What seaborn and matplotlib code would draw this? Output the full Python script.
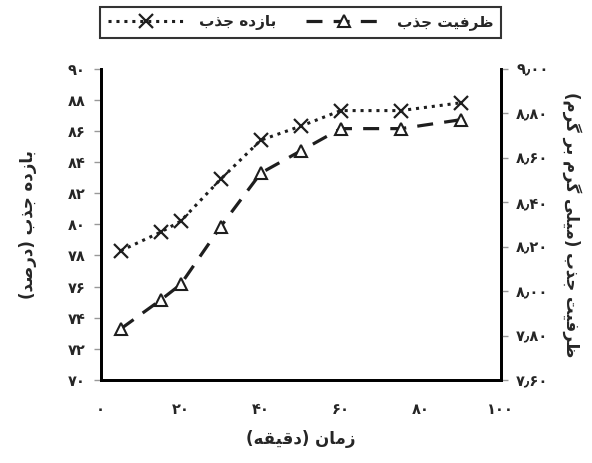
import matplotlib
matplotlib.use("Agg")
import matplotlib.pyplot as plt
import seaborn as sns
import pandas as pd
from matplotlib.lines import Line2D

time_min = [5, 15, 20, 30, 40, 50, 60, 75, 90]
efficiency = [78.3, 79.5, 80.2, 82.9, 85.4, 86.3, 87.3, 87.3, 87.8]
capacity = [7.83, 7.96, 8.03, 8.29, 8.53, 8.63, 8.73, 8.73, 8.77]

label_eff = "بازده جذب"
label_cap = "ظرفیت جذب"
ylabel_left = "بازده جذب (درصد)"
ylabel_right = "ظرفیت جذب (میلی گرم بر گرم)"
xlabel = "زمان (دقیقه)"

x_ticks = [0, 20, 40, 60, 80, 100]
left_ticks = [70, 72, 74, 76, 78, 80, 82, 84, 86, 88, 90]
right_ticks = [7.6, 7.8, 8.0, 8.2, 8.4, 8.6, 8.8, 9.0]

# --- minimal Arabic/Persian shaping (presentation forms, visual order) ---
FORMS = {
    'ا': (0xFE8D, 0xFE8E, None, None),
    'د': (0xFEA9, 0xFEAA, None, None),
    'ذ': (0xFEAB, 0xFEAC, None, None),
    'ر': (0xFEAD, 0xFEAE, None, None),
    'ز': (0xFEAF, 0xFEB0, None, None),
    'ب': (0xFE8F, 0xFE90, 0xFE91, 0xFE92),
    'ت': (0xFE95, 0xFE96, 0xFE97, 0xFE98),
    'ج': (0xFE9D, 0xFE9E, 0xFE9F, 0xFEA0),
    'ص': (0xFEB9, 0xFEBA, 0xFEBB, 0xFEBC),
    'ظ': (0xFEC5, 0xFEC6, 0xFEC7, 0xFEC8),
    'ف': (0xFED1, 0xFED2, 0xFED3, 0xFED4),
    'ق': (0xFED5, 0xFED6, 0xFED7, 0xFED8),
    'ل': (0xFEDD, 0xFEDE, 0xFEDF, 0xFEE0),
    'م': (0xFEE1, 0xFEE2, 0xFEE3, 0xFEE4),
    'ن': (0xFEE5, 0xFEE6, 0xFEE7, 0xFEE8),
    'ه': (0xFEE9, 0xFEEA, 0xFEEB, 0xFEEC),
    'ی': (0xFBFC, 0xFBFD, 0xFBFE, 0xFBFF),
    'گ': (0xFB92, 0xFB93, 0xFB94, 0xFB95),
}


def dual(c):
    return c in FORMS and FORMS[c][2] is not None


def shape(s):
    out = []
    for i, c in enumerate(s):
        if c not in FORMS:
            out.append(c)
            continue
        prev = s[i - 1] if i > 0 else ''
        nxt = s[i + 1] if i + 1 < len(s) else ''
        jp = dual(prev)
        jn = dual(c) and nxt in FORMS
        iso, fin, ini, med = FORMS[c]
        if jp and jn:
            code = med
        elif jp:
            code = fin
        elif jn:
            code = ini
        else:
            code = iso
        out.append(chr(code))
    vis = ''.join(reversed(out))
    return vis.translate(str.maketrans({'(': ')', ')': '('}))


FA = str.maketrans('0123456789.', '۰۱۲۳۴۵۶۷۸۹٫')


def fa(s):
    return s.translate(FA)


sns.set_theme(style="white")
plt.rcParams['font.family'] = ['DejaVu Sans']
plt.rcParams['font.weight'] = 'bold'

fig = plt.figure(figsize=(5.92, 4.63), dpi=100)
ax = fig.add_axes([0.170, 0.179, 0.676, 0.673])
ax2 = ax.twinx()

df = pd.DataFrame({"t": time_min, "eff": efficiency, "cap": capacity})

line_col = "#1e1e1e"
dot_style = (0, (1, 1.6))
dash_style = (0, (5, 3.5))
sns.lineplot(data=df, x="t", y="eff", ax=ax, color=line_col, linestyle=dot_style,
             linewidth=2.2, marker="x", markersize=10, markeredgewidth=1.6,
             markeredgecolor=line_col)
sns.lineplot(data=df, x="t", y="cap", ax=ax2, color=line_col, linestyle=dash_style,
             linewidth=2.3, marker="^", markersize=8, markerfacecolor="white",
             markeredgewidth=1.5, markeredgecolor=line_col)

ax.set_xlim(0, 100)
ax.set_ylim(70, 90)
ax2.set_ylim(7.6, 9.0)

ax.set_xticks(x_ticks)
ax.set_xticklabels([fa(str(v)) for v in x_ticks], fontsize=10.5, fontweight='bold')
ax.set_yticks(left_ticks)
ax.set_yticklabels([fa(str(v)) for v in left_ticks], fontsize=10.5, fontweight='bold')
ax2.set_yticks(right_ticks)
ax2.set_yticklabels([fa(f"{v:.2f}") for v in right_ticks], fontsize=10.5, fontweight='bold')

for a in (ax, ax2):
    for side in ("left", "right", "bottom"):
        a.spines[side].set_color("black")
        a.spines[side].set_linewidth(2)
    a.spines["top"].set_visible(False)
    a.tick_params(axis='both', direction='out', length=5, width=1, color='#999999', pad=6)
    a.grid(False)
ax.tick_params(axis='x', pad=11)

ax.set_xlabel(shape(xlabel), fontsize=12, fontweight='bold', labelpad=9)
ax.set_ylabel(shape(ylabel_left), fontsize=12, fontweight='bold', labelpad=22)
ax2.set_ylabel(shape(ylabel_right), fontsize=12, fontweight='bold', rotation=270,
               labelpad=24)

handles = [
    Line2D([], [], color=line_col, linestyle=dot_style, linewidth=2.2, marker="x",
           markersize=10, markeredgewidth=1.6),
    Line2D([], [], color=line_col, linestyle=dash_style, linewidth=2.3, marker="^",
           markersize=8, markerfacecolor="white", markeredgewidth=1.5),
]
leg = fig.legend(handles, [shape(label_eff), shape(label_cap)], ncol=2,
                 loc="center", bbox_to_anchor=(0.508, 0.952), frameon=True,
                 fancybox=False, edgecolor="black", handlelength=5.0,
                 columnspacing=1.9, borderpad=0.5, handletextpad=1.0,
                 prop={'weight': 'bold', 'size': 11})
leg.get_frame().set_linewidth(1.5)

fig.savefig("out.png", dpi=100)
